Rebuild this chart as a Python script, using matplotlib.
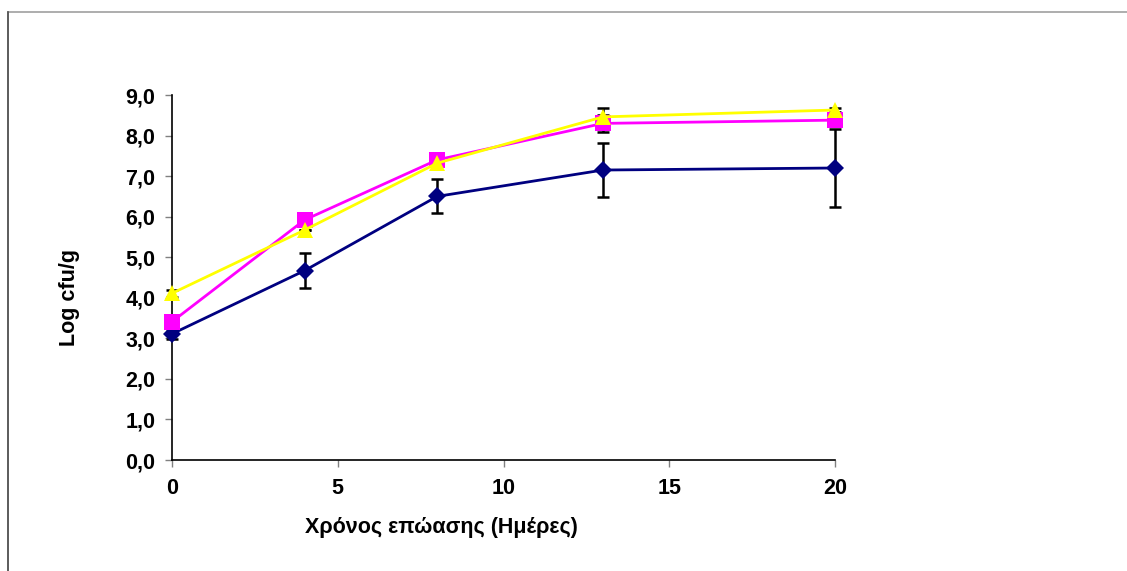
import matplotlib
matplotlib.use("Agg")
import matplotlib.pyplot as plt
from matplotlib.patches import Rectangle
from matplotlib import font_manager

# Incubation days and log counts for the three samples
days = [0, 4, 8, 13, 20]
series_blue = [3.11, 4.67, 6.50, 7.15, 7.20]
err_blue = [0.12, 0.43, 0.42, 0.67, 0.95]
series_pink = [3.41, 5.92, 7.40, 8.30, 8.38]
err_pink = [0.0, 0.0, 0.0, 0.21, 0.10]
series_yellow = [4.11, 5.67, 7.32, 8.46, 8.63]
err_yellow = [0.08, 0.0, 0.0, 0.22, 0.06]

x_ticks = [0, 5, 10, 15, 20]
y_ticks = [0, 1, 2, 3, 4, 5, 6, 7, 8, 9]
y_tick_labels = ["0,0", "1,0", "2,0", "3,0", "4,0", "5,0", "6,0", "7,0", "8,0", "9,0"]
x_label = "Χρόνος επώασης (Ημέρες)"
y_label = "Log cfu/g"

available = {f.name for f in font_manager.fontManager.ttflist}
family = [f for f in ["Liberation Sans", "Arial", "DejaVu Sans"] if f in available] or ["DejaVu Sans"]
plt.rcParams["font.family"] = family

W, H = 1127, 571
fig = plt.figure(figsize=(W / 100, H / 100), dpi=100)

# outer chart frame
fig.patches.append(Rectangle((8 / W, -0.05), 1.2, (H - 12) / H + 0.05,
                             transform=fig.transFigure, fill=False,
                             edgecolor="#a0a0a0", linewidth=1.2, zorder=0))
fig.add_artist(plt.Line2D([8 / W, 8 / W], [0, (H - 12) / H], transform=fig.transFigure,
                          color="#505050", linewidth=1.2))

ax = fig.add_axes([172 / W, (H - 460) / H, 663 / W, 365 / H])

lw = 2.0
eb = dict(fmt="none", ecolor="black", elinewidth=1.8, capsize=4.3, capthick=1.8, zorder=2)
for ys, es in ((series_blue, err_blue), (series_pink, err_pink), (series_yellow, err_yellow)):
    container = ax.errorbar(days, ys, yerr=es, **eb)
    for artist in container.get_children():
        artist.set_clip_on(False)

ax.plot(days, series_blue, color="#000080", linewidth=lw, marker="D",
        markersize=9.5, markeredgewidth=0, zorder=3, clip_on=False)
ax.plot(days, series_pink, color="#ff00ff", linewidth=lw, marker="s",
        markersize=11, markeredgewidth=0, zorder=4, clip_on=False)
ax.plot(days, series_yellow, color="#ffff00", linewidth=lw, marker="^",
        markersize=11, markeredgewidth=0, zorder=5, clip_on=False)

ax.set_xlim(0, 20)
ax.set_ylim(0, 9)
ax.set_xticks(x_ticks)
ax.set_xticklabels([str(v) for v in x_ticks])
ax.set_yticks(y_ticks)
ax.set_yticklabels(y_tick_labels)

for side in ("top", "right"):
    ax.spines[side].set_visible(False)
for side in ("left", "bottom"):
    ax.spines[side].set_linewidth(1.2)
    ax.spines[side].set_color("black")

ax.tick_params(axis="y", direction="out", length=5, width=1, color="#808080",
               pad=7, labelsize=15.5)
ax.tick_params(axis="x", direction="out", length=5, width=1, color="#808080",
               pad=8, labelsize=15.5)
for lab in ax.get_xticklabels() + ax.get_yticklabels():
    lab.set_fontweight("bold")

ax.set_xlabel(x_label, fontsize=15.5, fontweight="bold")
ax.xaxis.set_label_coords((441 - 172) / 663, -(528 - 460) / 365)
ax.xaxis.label.set_verticalalignment("center")
ax.set_ylabel(y_label, fontsize=15.5, fontweight="bold")
ax.yaxis.set_label_coords(-(172 - 69) / 663, (460 - 297) / 365)
ax.yaxis.label.set_verticalalignment("center")

fig.savefig("out.png", dpi=100, facecolor="white")
